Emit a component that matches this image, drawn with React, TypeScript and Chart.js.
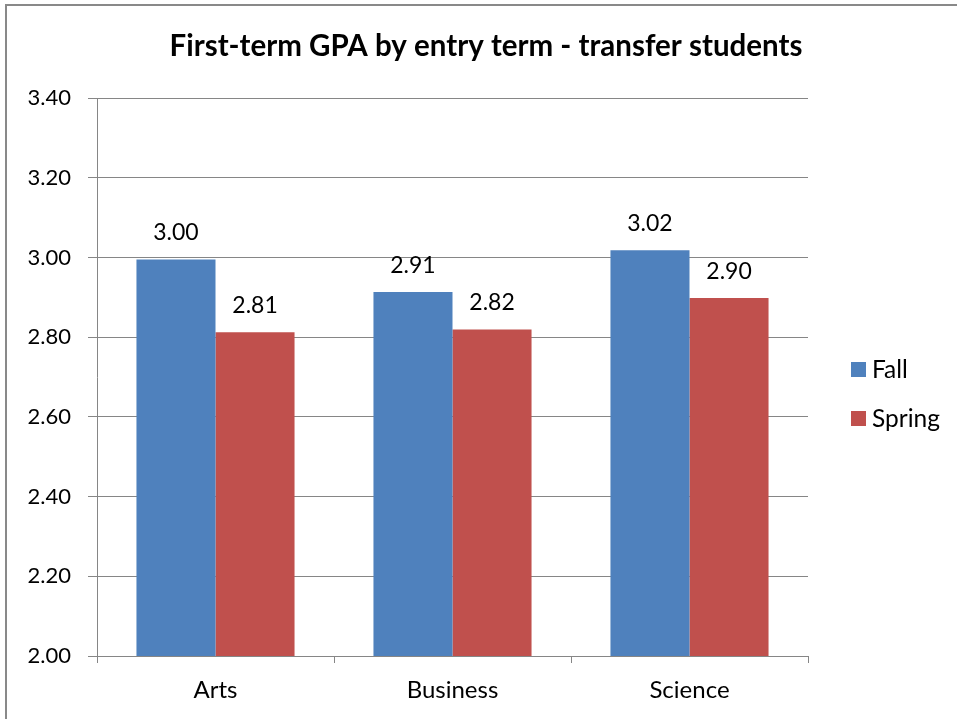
import React, { useEffect, useRef } from "react";
import { Chart, registerables } from "chart.js";

Chart.register(...registerables);

const categories = ["Arts", "Business", "Science"];
const fallValues = [2.995, 2.913, 3.018];
const springValues = [2.812, 2.819, 2.898];
const seriesNames = ["Fall", "Spring"];
const yTicks = [2.0, 2.2, 2.4, 2.6, 2.8, 3.0, 3.2, 3.4];
const titleText = "First-term GPA by entry term - transfer students";

const FONT = "Lato, 'Open Sans', sans-serif";
const BLUE = "#4F81BD";
const RED = "#C0504D";
const GRID = "#868686";

const decorPlugin = {
  id: "decor",
  beforeDraw(chart: any) {
    const ctx = chart.ctx;
    ctx.save();
    ctx.strokeStyle = "#898989";
    ctx.lineWidth = 2;
    ctx.beginPath();
    ctx.moveTo(6, 719);
    ctx.lineTo(6, 5);
    ctx.lineTo(957, 5);
    ctx.stroke();
    ctx.restore();
  },
  afterDraw(chart: any) {
    const ctx = chart.ctx;
    ctx.save();
    // title
    ctx.fillStyle = "#000";
    ctx.font = `bold 29.5px ${FONT}`;
    ctx.textAlign = "center";
    ctx.textBaseline = "middle";
    ctx.fillText(titleText, 486, 46);
    // data labels
    ctx.font = `23px ${FONT}`;
    ctx.textBaseline = "middle";
    chart.data.datasets.forEach((ds: any, i: number) => {
      const meta = chart.getDatasetMeta(i);
      meta.data.forEach((bar: any, j: number) => {
        const v = ds.data[j] as number;
        ctx.fillText(v.toFixed(2), bar.x, bar.y - 27);
      });
    });
    // legend
    const colors = [BLUE, RED];
    ctx.textAlign = "left";
    ctx.font = `24.5px ${FONT}`;
    seriesNames.forEach((name, i) => {
      const cy = 369 + i * 49;
      ctx.fillStyle = colors[i];
      ctx.fillRect(851, cy - 7, 15, 15);
      ctx.fillStyle = "#000";
      ctx.fillText(name, 872, cy + 1);
    });
    ctx.restore();
  },
};

export default function App() {
  const ref = useRef<HTMLCanvasElement | null>(null);
  useEffect(() => {
    if (!ref.current) return;
    const chart = new Chart(ref.current, {
      type: "bar",
      data: {
        labels: categories,
        datasets: [
          { label: seriesNames[0], data: fallValues, backgroundColor: BLUE, categoryPercentage: 0.667, barPercentage: 1.0 },
          { label: seriesNames[1], data: springValues, backgroundColor: RED, categoryPercentage: 0.667, barPercentage: 1.0 },
        ],
      },
      options: {
        responsive: false,
        animation: false,
        devicePixelRatio: 1,
        layout: { padding: { top: 98, right: 149, left: 0, bottom: 0 } },
        plugins: {
          legend: { display: false },
          title: { display: false },
          tooltip: { enabled: false },
        },
        scales: {
          x: {
            afterFit: (s: any) => { s.height = 63; },
            grid: { drawOnChartArea: false, drawTicks: true, tickLength: 7, color: GRID, offset: true },
            border: { display: true, color: GRID, width: 1 },
            ticks: { color: "#000", font: { family: FONT, size: 24 }, padding: 13 },
          },
          y: {
            min: 2.0,
            max: 3.4,
            afterFit: (s: any) => { s.width = 97; },
            afterBuildTicks: (s: any) => { s.ticks = yTicks.map((v) => ({ value: v })); },
            grid: { color: GRID, tickLength: 9, drawTicks: true },
            border: { display: true, color: GRID, width: 1 },
            ticks: {
              color: "#000",
              font: { family: FONT, size: 22 },
              padding: 17,
              callback: (v: any) => Number(v).toFixed(2),
            },
          },
        },
      },
      plugins: [decorPlugin],
    });
    return () => chart.destroy();
  }, []);
  return (
    <div style={{ position: "absolute", left: 0, top: 0, width: 957, height: 719, background: "#fff" }}>
      <canvas ref={ref} width={957} height={719} style={{ display: "block" }} />
    </div>
  );
}
